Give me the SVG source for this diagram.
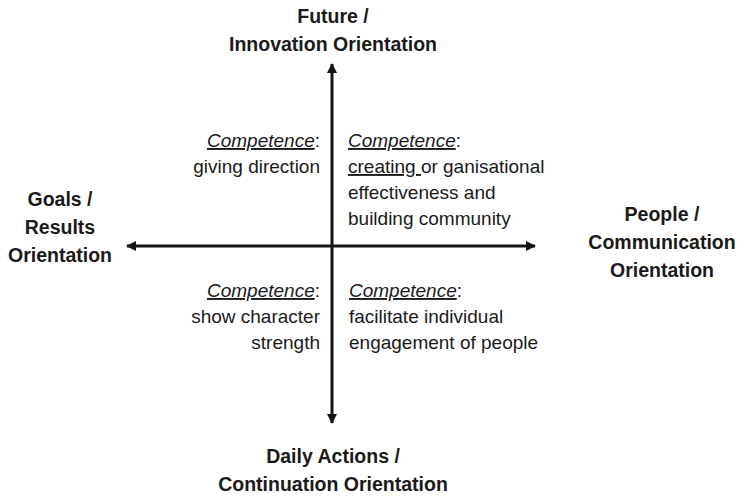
<svg xmlns="http://www.w3.org/2000/svg" width="744" height="497" viewBox="0 0 744 497">
  <style>
    .axis { stroke: #141414; stroke-width: 3; fill: none; }
    .label { font-family: "Liberation Sans", Arial, sans-serif; font-size: 19.5px; font-weight: bold; fill: #1a1a1a; text-anchor: middle; }
    .body { font-family: "Liberation Sans", Arial, sans-serif; font-size: 19px; fill: #1a1a1a; }
    .end { text-anchor: end; }
    .u { text-decoration: underline; }
    .it { font-style: italic; }
  </style>
  <defs>
    <marker id="head" viewBox="0 0 10 10" refX="9" refY="5" markerWidth="10" markerHeight="10" markerUnits="userSpaceOnUse" orient="auto-start-reverse">
      <path d="M0,0 L10,5 L0,10 Z" fill="#141414"/>
    </marker>
  </defs>

  <rect width="744" height="497" fill="#ffffff"/>

  <!-- axes -->
  <g id="connectors">
    <line class="axis" x1="332" y1="64" x2="332" y2="423" marker-start="url(#head)" marker-end="url(#head)"/>
    <line class="axis" x1="127" y1="246" x2="535" y2="246" marker-start="url(#head)" marker-end="url(#head)"/>
  </g>

  <!-- axis poles -->
  <g id="future">
    <text class="label" x="333" y="23">Future /</text>
    <text class="label" x="333" y="51">Innovation Orientation</text>
  </g>
  <g id="daily">
    <text class="label" x="333" y="463">Daily Actions /</text>
    <text class="label" x="333" y="491">Continuation Orientation</text>
  </g>
  <g id="goals">
    <text class="label" x="60" y="206">Goals /</text>
    <text class="label" x="60" y="234">Results</text>
    <text class="label" x="60" y="262">Orientation</text>
  </g>
  <g id="people">
    <text class="label" x="662" y="221">People /</text>
    <text class="label" x="662" y="249">Communication</text>
    <text class="label" x="662" y="277">Orientation</text>
  </g>

  <!-- quadrant competences -->
  <g id="upper-left">
    <text class="body end" x="320" y="147"><tspan class="it u">Competence</tspan>:</text>
    <text class="body end" x="320" y="173">giving direction</text>
  </g>
  <g id="upper-right">
    <text class="body" x="348" y="147"><tspan class="it u">Competence</tspan>:</text>
    <text class="body" x="348" y="173"><tspan class="u">creating </tspan>or ganisational</text>
    <text class="body" x="348" y="199">effectiveness and</text>
    <text class="body" x="348" y="225">building community</text>
  </g>
  <g id="lower-left">
    <text class="body end" x="320" y="297"><tspan class="it u">Competence</tspan>:</text>
    <text class="body end" x="320" y="323">show character</text>
    <text class="body end" x="320" y="349">strength</text>
  </g>
  <g id="lower-right">
    <text class="body" x="349" y="297"><tspan class="it u">Competence</tspan>:</text>
    <text class="body" x="349" y="323">facilitate individual</text>
    <text class="body" x="349" y="349">engagement of people</text>
  </g>
</svg>
